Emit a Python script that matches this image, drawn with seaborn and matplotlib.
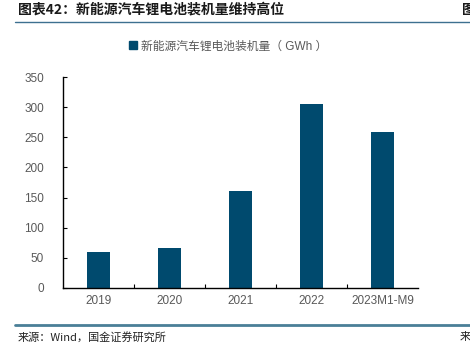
import matplotlib
matplotlib.use("Agg")
import matplotlib.pyplot as plt
import seaborn as sns
import pandas as pd
from matplotlib.ticker import FixedLocator
from matplotlib.patches import Rectangle
from matplotlib.lines import Line2D

categories = ["2019", "2020", "2021", "2022", "2023M1-M9"]
values = [59, 66, 161, 305, 259]
series_name = "新能源汽车锂电池装机量（ GWh ）"
title = "图表42：新能源汽车锂电池装机量维持高位"
source = "来源：Wind，国金证券研究所"

sns.set_theme(style="white")
plt.rcParams['font.family'] = ['Liberation Sans', 'Noto Sans CJK SC', 'DejaVu Sans']
cjk = ['Noto Sans CJK SC', 'DejaVu Sans']

df = pd.DataFrame({"cat": categories, "val": values})

fig = plt.figure(figsize=(4.7, 3.51), dpi=100)
ax = fig.add_axes([0.1347, 0.1795, 0.7543, 0.6011])
bar_color = "#004a6e"
sns.barplot(data=df, x="cat", y="val", color=bar_color, width=0.33, ax=ax,
            saturation=1, edgecolor="none")
ax.set_xlim(-0.5, len(categories) - 0.5)
ax.set_ylim(0, 350)
ax.set_yticks(range(0, 351, 50))
ax.set_xlabel("")
ax.set_ylabel("")
for s in ["top", "right"]:
    ax.spines[s].set_visible(False)
for s in ["left", "bottom"]:
    ax.spines[s].set_color("black")
    ax.spines[s].set_linewidth(1.0)
ax.tick_params(axis="y", direction="in", length=3, width=0.8, color="black",
               labelsize=8.5, labelcolor="#595959", pad=14, left=True)
ax.tick_params(axis="x", which="major", length=0, labelsize=8.5,
               labelcolor="#595959", pad=5)
ax.xaxis.set_minor_locator(FixedLocator([i + 0.5 for i in range(len(categories) - 1)]))
ax.tick_params(axis="x", which="minor", direction="in", length=3, width=0.8,
               color="black", bottom=True)

# legend
handle = Rectangle((0, 0), 1, 1, color=bar_color)
fig.legend([handle], [series_name], loc="center", bbox_to_anchor=(0.485, 0.868),
           frameon=False, fontsize=8.5, handlelength=0.7, handleheight=0.7,
           handletextpad=0.3, labelcolor="#595959")

# title and decorations
fig.text(0.038, 0.972, title, fontsize=10, fontweight="bold", color="#1a1a1a",
         ha="left", va="center", family=cjk)
fig.text(0.982, 0.972, "图", fontsize=10, fontweight="bold", color="#1a1a1a",
         ha="left", va="center", family=cjk)
fig.add_artist(Line2D([0.032, 1.0], [0.937, 0.937], color="#3d7090", lw=1.0,
                      transform=fig.transFigure))
fig.add_artist(Line2D([0.032, 1.0], [0.074, 0.074], color="#4a7f97", lw=2.0,
                      transform=fig.transFigure))
fig.text(0.038, 0.04, source, fontsize=8, color="#222222", ha="left", va="center",
         family=cjk)
fig.text(0.978, 0.04, "来", fontsize=8, color="#222222", ha="left", va="center",
         family=cjk)

fig.savefig("out.png", dpi=100)
